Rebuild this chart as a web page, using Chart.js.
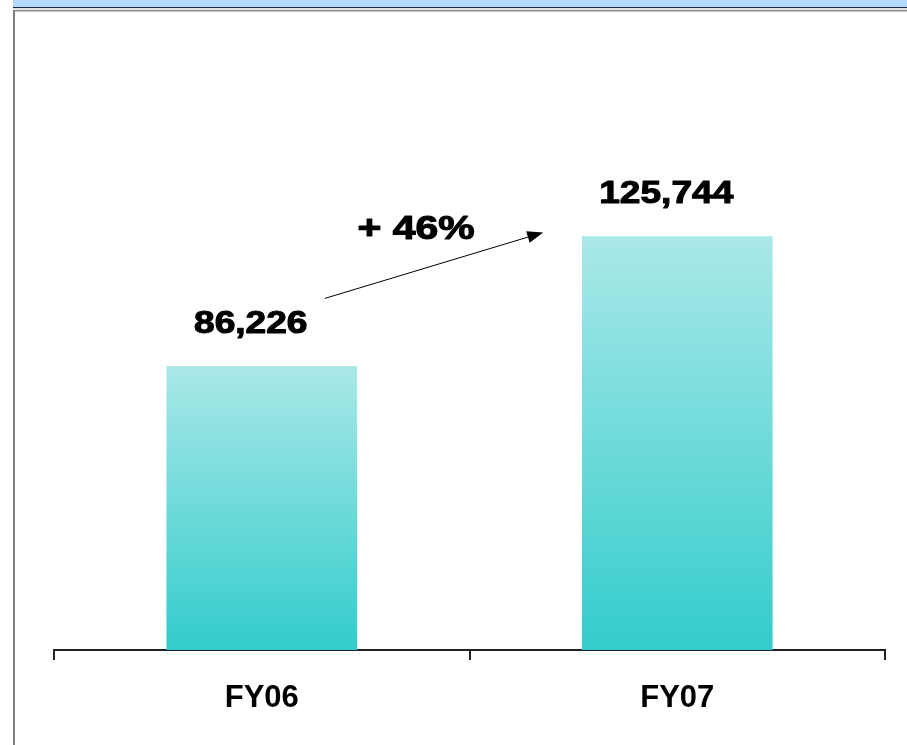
<!DOCTYPE html>
<html><head><meta charset="utf-8">
<script src="https://cdn.jsdelivr.net/npm/chart.js@4"></script>
<style>html,body{margin:0;padding:0;background:#fff;}#wrap{width:907px;height:745px;}</style>
</head><body><div id="wrap"><canvas id="c" width="907" height="745"></canvas></div>
<script>
const categories = ['FY06', 'FY07'];
const values = [86226, 125744];
const growthLabel = '+ ' + Math.round((values[1] / values[0] - 1) * 100) + '%';

const FONT = '"Liberation Sans", Arial, sans-serif';

const frame = {
  id: 'frame',
  beforeDraw(chart) {
    const ctx = chart.ctx;
    ctx.save();
    ctx.fillStyle = '#ffffff';
    ctx.fillRect(0, 0, chart.width, chart.height);
    ctx.fillStyle = '#b3d9ff'; ctx.fillRect(13, 0, 894, 7);
    ctx.fillStyle = '#1c2a44'; ctx.fillRect(13, 7, 894, 1);
    ctx.fillStyle = '#e4e4e4'; ctx.fillRect(13, 8, 894, 2);
    ctx.fillStyle = '#8a8a8a'; ctx.fillRect(13, 10, 894, 1.5);
    ctx.fillStyle = '#7f7f7f'; ctx.fillRect(13, 10, 2, 735);
    ctx.restore();
  }
};

function stretchedText(ctx, text, cx, baseline, font, sx) {
  ctx.save();
  ctx.font = font;
  ctx.textAlign = 'center';
  ctx.textBaseline = 'alphabetic';
  ctx.translate(cx, baseline);
  ctx.scale(sx, 1);
  ctx.lineWidth = 1.1;
  ctx.lineJoin = 'round';
  ctx.strokeStyle = '#000';
  ctx.fillText(text, 0, 0);
  ctx.strokeText(text, 0, 0);
  ctx.restore();
}

const labels = {
  id: 'labels',
  afterDatasetsDraw(chart) {
    const ctx = chart.ctx;
    const bars = chart.getDatasetMeta(0).data;
    ctx.save();
    ctx.fillStyle = '#000';
    bars.forEach((b, i) => {
      stretchedText(ctx, values[i].toLocaleString('en-US'), b.x - 11, b.y - 33,
        'bold 32px ' + FONT, 1.16);
    });
    // growth arrow
    const b0 = bars[0], b1 = bars[1];
    const x0 = b0.x + 63, y0 = b0.y - 68;
    const x1 = b1.x - 134, y1 = b1.y - 4;
    const ang = Math.atan2(y1 - y0, x1 - x0);
    const hl = 16, hw = 6;
    const bx = x1 - hl * Math.cos(ang), by = y1 - hl * Math.sin(ang);
    ctx.strokeStyle = '#000';
    ctx.lineWidth = 1;
    ctx.beginPath(); ctx.moveTo(x0, y0); ctx.lineTo(bx, by); ctx.stroke();
    ctx.beginPath();
    ctx.moveTo(x1, y1);
    ctx.lineTo(bx + hw * Math.sin(ang), by - hw * Math.cos(ang));
    ctx.lineTo(bx - hw * Math.sin(ang), by + hw * Math.cos(ang));
    ctx.closePath(); ctx.fill();
    const mx = (x0 + x1) / 2, my = (y0 + y1) / 2;
    stretchedText(ctx, growthLabel, mx - 18, my - 26, 'bold 33px ' + FONT, 1.24);
    ctx.restore();
  }
};

new Chart(document.getElementById('c'), {
  type: 'bar',
  data: {
    labels: categories,
    datasets: [{
      data: values,
      barThickness: 190,
      borderWidth: 0,
      backgroundColor: (c) => {
        const chart = c.chart;
        if (!chart.chartArea || c.type !== 'data') return '#36cccc';
        const y = chart.scales.y;
        const top = y.getPixelForValue(c.raw);
        const bottom = y.getPixelForValue(0);
        const g = chart.ctx.createLinearGradient(0, top, 0, bottom);
        g.addColorStop(0, '#aae8e8');
        g.addColorStop(1, '#33cccc');
        return g;
      }
    }]
  },
  options: {
    responsive: false,
    animation: false,
    layout: { padding: { left: 54, right: 22, top: 12, bottom: 0 } },
    plugins: { legend: { display: false }, tooltip: { enabled: false } },
    scales: {
      y: { display: false, min: 0, max: 194000 },
      x: {
        offset: true,
        border: { display: true, color: '#222', width: 2 },
        grid: { display: true, drawOnChartArea: false, drawTicks: true, tickLength: 10, color: '#222', lineWidth: 2, offset: true },
        ticks: { color: '#000', font: { family: FONT, size: 31, weight: 'bold' }, padding: 20 },
        afterFit(scale) { scale.height = 95; }
      }
    }
  },
  plugins: [frame, labels]
});
</script>
</body></html>
